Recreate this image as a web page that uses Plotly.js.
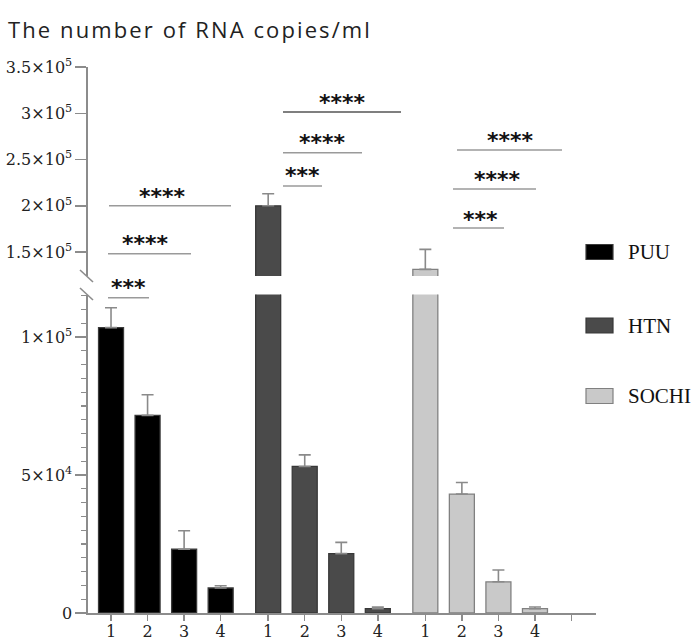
<!DOCTYPE html>
<html><head><meta charset="utf-8">
<script src="https://cdn.plot.ly/plotly-3.0.1.min.js"></script>
<style>body{margin:0;background:#fff}#chart{width:692px;height:640px}
.gtitle{letter-spacing:2.1px}</style>
</head><body><div id="chart"></div>
<script>
// ---- data ----
const groups = ['PUU', 'HTN', 'SOCHI'];
const sampleLabels = ['1', '2', '3', '4'];
const puuValues = [103400, 71600, 23100, 9060];
const puuErrors = [7200, 7500, 6700, 800];
const htnValues = [200000, 53100, 21500, 1600];
const htnErrors = [13000, 4200, 4100, 600];
const sochiValues = [131300, 43100, 11300, 1560];
const sochiErrors = [21600, 4200, 4300, 600];
const groupOffsets = [0, 4.3, 8.6];
const extraTick = 12.6;
const lowerTickVals = [0, 50000, 100000];
const lowerTickText = ['0', '5×10<sup>4</sup>', '1×10<sup>5</sup>'];
const upperTickVals = [150000, 200000, 250000, 300000, 350000];
const upperTickText = ['1.5×10<sup>5</sup>', '2×10<sup>5</sup>', '2.5×10<sup>5</sup>', '3×10<sup>5</sup>', '3.5×10<sup>5</sup>'];
const sigLabels = ['***', '****', '****'];

// ---- styling ----
const W = 692, H = 640, L = 88, R = 96, T = 67, B = 27;
const plotW = W - L - R, plotH = H - T - B;
const px2x = px => (px - L) / plotW;      // paper x
const px2y = py => (H - B - py) / plotH;  // paper y
const lowerRange = [0, 115400];
const upperRange = [124100, 350000];
const lowerDomain = [0, px2y(294.5)];
const upperDomain = [px2y(276), 1];

const seriesStyle = [
  {fill: '#000000', line: '#3a3a3a'},
  {fill: '#4a4a4a', line: '#383838'},
  {fill: '#c9c9c9', line: '#808080'}
];
const allValues = [puuValues, htnValues, sochiValues];
const allErrors = [puuErrors, htnErrors, sochiErrors];

const traces = [];
groups.forEach((g, gi) => {
  const xs = sampleLabels.map((s, i) => groupOffsets[gi] + i);
  ['y', 'y2'].forEach(ax => {
    traces.push({
      type: 'bar', x: xs, y: allValues[gi], yaxis: ax, xaxis: 'x',
      name: g, showlegend: false, width: 0.684,
      marker: {color: seriesStyle[gi].fill, line: {color: seriesStyle[gi].line, width: 1.3}},
      error_y: {type: 'data', symmetric: false, array: allErrors[gi],
        arrayminus: allErrors[gi].map(() => 0), color: '#8a8a8a', thickness: 1.6, width: 6},
      cliponaxis: true, hoverinfo: 'skip'
    });
  });
});

const tickVals = [];
const tickText = [];
groupOffsets.forEach(o => sampleLabels.forEach((s, i) => { tickVals.push(o + i); tickText.push(s); }));
tickVals.push(extraTick); tickText.push('');

const axisCol = '#8c8c8c';
const tickFont = {family: 'DejaVu Serif, serif', size: 16, color: '#222'};

// significance brackets (pixel positions)
const brackets = [
  {x0: 108, x1: 149, y: 297.7, sx: 128, sy: 283, lab: 0},
  {x0: 108, x1: 191, y: 253.7, sx: 145, sy: 240, lab: 1},
  {x0: 109, x1: 231, y: 205.7, sx: 162, sy: 192, lab: 2},
  {x0: 283, x1: 322, y: 186, sx: 302, sy: 172, lab: 0},
  {x0: 283, x1: 362, y: 152.7, sx: 322, sy: 139, lab: 1},
  {x0: 283, x1: 401, y: 112, sx: 342, sy: 98, lab: 2, dark: true},
  {x0: 453, x1: 504, y: 228, sx: 480, sy: 215, lab: 0},
  {x0: 453, x1: 536, y: 189, sx: 497, sy: 175, lab: 1},
  {x0: 457, x1: 562, y: 150, sx: 510, sy: 136, lab: 2}
];

const shapes = [];
const annotations = [];
brackets.forEach(b => {
  shapes.push({type: 'line', xref: 'paper', yref: 'paper', x0: px2x(b.x0), x1: px2x(b.x1),
    y0: px2y(b.y), y1: px2y(b.y), line: {color: b.dark ? '#555' : '#9a9a9a', width: 1.6}});
  annotations.push({xref: 'paper', yref: 'paper', x: px2x(b.sx), y: px2y(b.sy + 4),
    text: '<b>' + sigLabels[b.lab] + '</b>', showarrow: false, xanchor: 'center', yanchor: 'middle',
    font: {family: 'DejaVu Sans, sans-serif', size: 22, color: '#111'}});
});

// axis break marks
[[80, 270, 93, 282], [80, 288, 93, 300]].forEach(m => {
  shapes.push({type: 'line', xref: 'paper', yref: 'paper', x0: px2x(m[0]), y0: px2y(m[1]),
    x1: px2x(m[2]), y1: px2y(m[3]), line: {color: axisCol, width: 1.6}});
});

// legend
const legendRows = [252, 325.5, 396];
groups.forEach((g, gi) => {
  const cy = legendRows[gi];
  shapes.push({type: 'rect', xref: 'paper', yref: 'paper', x0: px2x(586), x1: px2x(613),
    y0: px2y(cy + 7.5), y1: px2y(cy - 7.5), fillcolor: seriesStyle[gi].fill,
    line: {color: seriesStyle[gi].line, width: 1.2}});
  annotations.push({xref: 'paper', yref: 'paper', x: px2x(626), y: px2y(cy), text: g,
    showarrow: false, xanchor: 'left', yanchor: 'middle',
    font: {family: 'Liberation Serif, serif', size: 21, color: '#111'}});
});

const layout = {
  width: W, height: H,
  margin: {l: L, r: R, t: T, b: B, pad: 0},
  paper_bgcolor: '#fff', plot_bgcolor: '#fff',
  showlegend: false, barmode: 'overlay',
  title: {text: 'The number of RNA copies/ml', x: 8 / W, xanchor: 'left', xref: 'container',
    y: 1 - 30 / H, yanchor: 'middle', yref: 'container',
    font: {family: 'Open Sans, sans-serif', size: 22, color: '#222'}},
  xaxis: {range: [-0.63, 13.27], domain: [0, 1], anchor: 'y', tickmode: 'array',
    tickvals: tickVals, ticktext: tickText, ticks: 'outside', ticklen: 6, tickwidth: 1.5,
    tickcolor: axisCol, showline: true, linecolor: axisCol, linewidth: 1.6,
    showgrid: false, zeroline: false, ticklabelstandoff: -3,
    tickfont: {family: 'DejaVu Serif, serif', size: 16, color: '#222'}},
  yaxis: {domain: lowerDomain, range: lowerRange, anchor: 'x', tickmode: 'array',
    tickvals: lowerTickVals, ticktext: lowerTickText, ticks: 'outside', ticklen: 11,
    tickwidth: 1.5, tickcolor: axisCol, showline: true, linecolor: axisCol, linewidth: 1.6,
    showgrid: false, zeroline: false, tickfont: tickFont,
    minor: {tickmode: 'linear', tick0: 0, dtick: 5000, ticks: 'outside', ticklen: 5,
      tickwidth: 1.3, tickcolor: axisCol, showgrid: false}},
  yaxis2: {domain: upperDomain, range: upperRange, anchor: 'x', tickmode: 'array',
    tickvals: upperTickVals, ticktext: upperTickText, ticks: 'outside', ticklen: 11,
    tickwidth: 1.5, tickcolor: axisCol, showline: true, linecolor: axisCol, linewidth: 1.6,
    showgrid: false, zeroline: false, tickfont: tickFont},
  shapes: shapes, annotations: annotations
};

Plotly.newPlot('chart', traces, layout, {displayModeBar: false, staticPlot: true});
</script></body></html>
